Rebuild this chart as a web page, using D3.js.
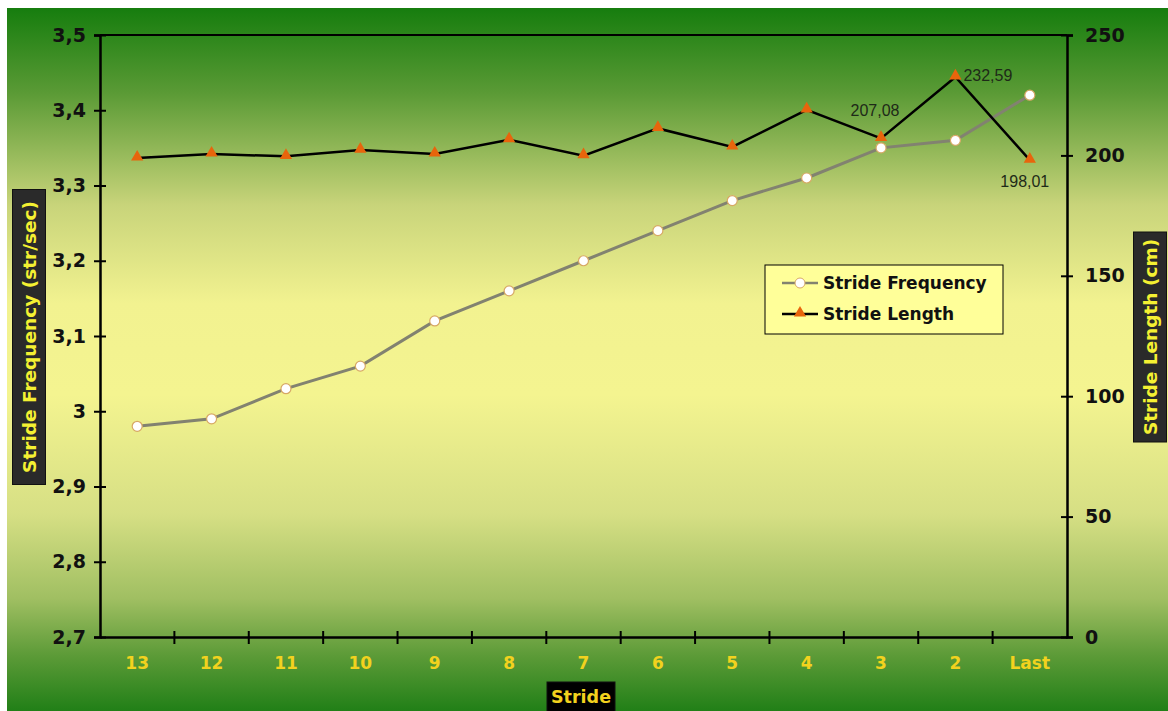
<!DOCTYPE html>
<html lang="en">
<head>
    <meta charset="UTF-8">
    <title>Stride Frequency and Stride Length</title>
    <script src="https://d3js.org/d3.v7.min.js"></script>
    <style>
        body {
            margin: 0;
            background: #ffffff;
        }
        .tick text {
            font-family: "DejaVu Sans", Verdana, sans-serif;
            font-weight: bold;
        }
    </style>
</head>
<body>
    <svg width="1168" height="711"></svg>

    <script>
        const strides = ["13", "12", "11", "10", "9", "8", "7", "6", "5", "4", "3", "2", "Last"];
        const strideFrequency = [2.98, 2.99, 3.03, 3.06, 3.12, 3.16, 3.20, 3.24, 3.28, 3.31, 3.35, 3.36, 3.42];
        const strideLength = [198.9, 200.6, 199.6, 202.2, 200.6, 206.5, 199.9, 211.2, 203.5, 218.9, 207.08, 232.59, 198.01];
        const freqTicks = [2.7, 2.8, 2.9, 3.0, 3.1, 3.2, 3.3, 3.4, 3.5];
        const lengthTicks = [0, 50, 100, 150, 200, 250];
        const labelled = ["3", "2", "Last"];

        const svg = d3.select("svg");
        const margin = {top: 35, right: 101, bottom: 74, left: 100};
        const W = +svg.attr("width"), H = +svg.attr("height");
        const width = W - margin.left - margin.right;
        const height = H - margin.top - margin.bottom;

        // background gradient
        const defs = svg.append("defs");
        const grad = defs.append("linearGradient")
            .attr("id", "bg").attr("x1", 0).attr("y1", 0).attr("x2", 0).attr("y2", 1);
        [[0, "#167d0e"], [0.12, "#5a9a35"], [0.28, "#c8d47a"], [0.42, "#f2f290"], [0.55, "#f4f490"],
         [0.72, "#d6df84"], [0.84, "#a0bf62"], [0.92, "#5d9b38"], [1, "#217f17"]]
            .forEach(s => grad.append("stop").attr("offset", s[0]).attr("stop-color", s[1]));
        svg.append("rect").attr("x", 7).attr("y", 8).attr("width", W - 7).attr("height", H - 8)
            .attr("fill", "url(#bg)");

        const g = svg.append("g").attr("transform", `translate(${margin.left},${margin.top})`);

        const x = d3.scaleBand().domain(strides).range([0, width]).padding(0);
        const yL = d3.scaleLinear().domain([2.7, 3.5]).range([height, 0]);
        const yR = d3.scaleLinear().domain([0, 250]).range([height, 0]);
        const fmt = d => String(+d.toFixed(1)).replace(".", ",");

        // top border
        g.append("line").attr("x1", 0).attr("x2", width).attr("y1", 0).attr("y2", 0)
            .attr("stroke", "#000").attr("stroke-width", 2);

        // left axis
        const axL = g.append("g")
            .call(d3.axisLeft(yL).tickValues(freqTicks).tickFormat(fmt).tickSize(6).tickPadding(8));
        axL.select(".domain").attr("stroke-width", 2.5);
        axL.selectAll(".tick line").attr("x1", 6).attr("stroke-width", 2);
        axL.selectAll(".tick text").attr("font-size", 19).attr("fill", "#111");

        // right axis
        const axR = g.append("g").attr("transform", `translate(${width},0)`)
            .call(d3.axisRight(yR).tickValues(lengthTicks).tickSize(6).tickPadding(12));
        axR.select(".domain").attr("stroke-width", 2.5);
        axR.selectAll(".tick line").attr("x1", -6).attr("stroke-width", 2);
        axR.selectAll(".tick text").attr("font-size", 19).attr("fill", "#111");

        // bottom axis
        const axB = g.append("g").attr("transform", `translate(0,${height})`)
            .call(d3.axisBottom(x).tickSize(0).tickPadding(20));
        axB.select(".domain").attr("stroke-width", 2.5);
        axB.selectAll(".tick text").attr("font-size", 17).attr("fill", "#f2d21e");
        axB.selectAll(".boundary")
            .data(strides.slice(1))
            .enter().append("line")
            .attr("x1", d => x(d)).attr("x2", d => x(d))
            .attr("y1", -6).attr("y2", 7)
            .attr("stroke", "#000").attr("stroke-width", 2);

        // stride frequency line
        const lineF = d3.line().x((d, i) => x(strides[i]) + x.bandwidth() / 2).y(d => yL(d));
        g.append("path").datum(strideFrequency)
            .attr("d", lineF).attr("fill", "none")
            .attr("stroke", "#828270").attr("stroke-width", 3);

        // stride length line
        const lineL = d3.line().x((d, i) => x(strides[i]) + x.bandwidth() / 2).y(d => yR(d));
        g.append("path").datum(strideLength)
            .attr("d", lineL).attr("fill", "none")
            .attr("stroke", "#000").attr("stroke-width", 2.5);

        g.selectAll(".fdot")
            .data(strideFrequency)
            .enter().append("circle")
            .attr("cx", (d, i) => x(strides[i]) + x.bandwidth() / 2)
            .attr("cy", d => yL(d))
            .attr("r", 5)
            .attr("fill", "#ffffff").attr("stroke", "#d7a865").attr("stroke-width", 1.2);

        const tri = d3.symbol().type(d3.symbolTriangle).size(65);
        g.selectAll(".ltri")
            .data(strideLength)
            .enter().append("path")
            .attr("d", tri)
            .attr("transform", (d, i) => `translate(${x(strides[i]) + x.bandwidth() / 2},${yR(d) - 1})`)
            .attr("fill", "#e8650c");

        // data labels
        function fmt2(v) { return v.toFixed(2).replace(".", ","); }
        const labelPos = {"3": [-6, -22, "middle"], "2": [8, 4, "start"], "Last": [-5, 27, "middle"]};
        strides.forEach((s, i) => {
            if (!labelled.includes(s)) return;
            const p = labelPos[s];
            g.append("text")
                .attr("x", x(s) + x.bandwidth() / 2 + p[0])
                .attr("y", yR(strideLength[i]) + p[1])
                .attr("text-anchor", p[2])
                .attr("font-family", "'Liberation Sans Narrow', 'Arial Narrow', Arial, sans-serif")
                .attr("font-size", 16)
                .attr("fill", "#1e2a18")
                .text(fmt2(strideLength[i]));
        });

        // axis titles
        function boxTitle(cx, cy, w, h, rot, text, color, size, fill) {
            const t = svg.append("g").attr("transform", `translate(${cx},${cy}) rotate(${rot})`);
            t.append("rect").attr("x", -w / 2).attr("y", -h / 2).attr("width", w).attr("height", h)
                .attr("fill", fill).attr("stroke", "#111");
            t.append("text").attr("text-anchor", "middle").attr("dy", "0.36em")
                .attr("font-family", "'DejaVu Sans', Verdana, sans-serif").attr("font-weight", "bold")
                .attr("font-size", size).attr("fill", color).text(text);
        }
        boxTitle(29, 337, 295, 33, -90, "Stride Frequency (str/sec)", "#f4f032", 18.5, "#2a2a2a");
        boxTitle(1150, 337, 210, 33, -90, "Stride Length (cm)", "#f4f032", 18.5, "#2a2a2a");
        boxTitle(581, 697, 68, 30, 0, "Stride", "#f2d21e", 17.5, "#000");

        // legend
        const leg = svg.append("g").attr("transform", "translate(765,265)");
        leg.append("rect").attr("width", 238).attr("height", 69)
            .attr("fill", "#ffff99").attr("stroke", "#000").attr("stroke-width", 1);
        const items = [
            {name: "Stride Frequency", stroke: "#828270", marker: "circle"},
            {name: "Stride Length", stroke: "#000", marker: "triangle"}
        ];
        items.forEach((it, i) => {
            const yy = 18 + i * 31;
            leg.append("line").attr("x1", 17).attr("x2", 53).attr("y1", yy).attr("y2", yy)
                .attr("stroke", it.stroke).attr("stroke-width", 2.5);
            if (it.marker === "circle") {
                leg.append("circle").attr("cx", 35).attr("cy", yy).attr("r", 5)
                    .attr("fill", "#fff").attr("stroke", "#d7a865");
            } else {
                leg.append("path").attr("d", tri).attr("transform", `translate(35,${yy - 1})`)
                    .attr("fill", "#e8650c");
            }
            leg.append("text").attr("x", 58).attr("y", yy).attr("dy", "0.36em")
                .attr("font-family", "'DejaVu Sans', Verdana, sans-serif").attr("font-weight", "bold")
                .attr("font-size", 17).attr("fill", "#111").text(it.name);
        });
    </script>
</body>
</html>
